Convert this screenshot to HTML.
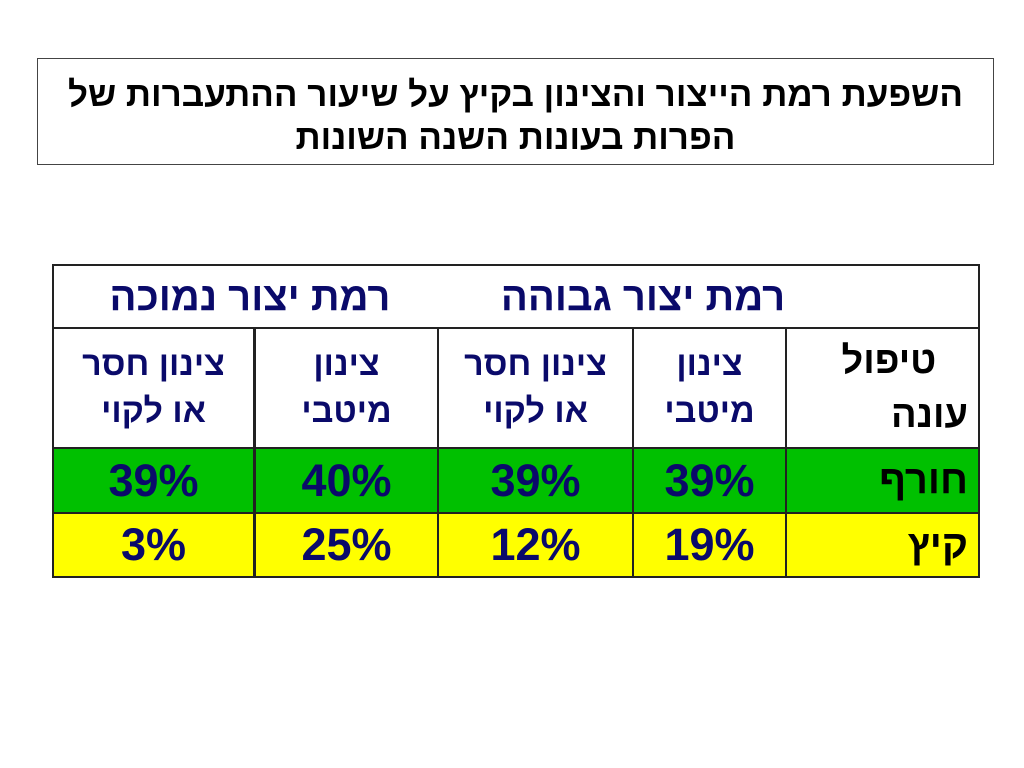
<!DOCTYPE html>
<html><head><meta charset="utf-8"><style>
body{margin:0;width:1024px;height:768px;background:#fff;position:relative;font-family:"Liberation Sans",sans-serif;overflow:hidden}
.a{position:absolute}
#title{left:37px;top:58px;width:957px;height:107px;border:1px solid #444;direction:rtl;text-align:center;font-weight:bold;font-size:35px;line-height:43px;color:#000;padding-top:14px;box-sizing:border-box;white-space:nowrap}
.c{position:absolute;display:flex;align-items:center;justify-content:center;text-align:center;color:#0a0a6a;font-weight:bold;direction:rtl;box-sizing:border-box;white-space:nowrap}
.h{font-size:34px;line-height:47px}
.n{font-size:45px}
.ln{position:absolute;background:#222}
</style></head><body>
<div id="title" class="a">השפעת רמת הייצור והצינון בקיץ על שיעור ההתעברות של<br>הפרות בעונות השנה השונות</div>
<div class="a" style="left:52px;top:264px;width:928px;height:314px;border:2px solid #222;box-sizing:border-box"></div>
<div class="c" style="left:52px;top:266px;width:386px;height:62px;font-size:40px;padding-left:10px">רמת יצור נמוכה</div>
<div class="c" style="left:438px;top:266px;width:410px;height:62px;font-size:40px">רמת יצור גבוהה</div>
<div class="ln" style="left:52px;top:327px;width:928px;height:2px"></div>
<div class="ln" style="left:52px;top:447px;width:928px;height:2px"></div>
<div class="ln" style="left:52px;top:512px;width:928px;height:2px"></div>
<div class="a" style="left:54px;top:449px;width:924px;height:63px;background:#00c000"></div>
<div class="a" style="left:54px;top:514px;width:924px;height:62px;background:#ffff00"></div>
<div class="ln" style="left:253px;top:328px;width:3px;height:250px"></div>
<div class="ln" style="left:437px;top:328px;width:2px;height:250px"></div>
<div class="ln" style="left:632px;top:328px;width:2px;height:250px"></div>
<div class="ln" style="left:785px;top:328px;width:2px;height:250px"></div>
<div class="c h" style="left:54px;top:329px;width:199px;height:118px">צינון חסר<br>או לקוי</div>
<div class="c h" style="left:256px;top:329px;width:181px;height:118px">צינון<br>מיטבי</div>
<div class="c h" style="left:439px;top:329px;width:193px;height:118px">צינון חסר<br>או לקוי</div>
<div class="c h" style="left:634px;top:329px;width:151px;height:118px">צינון<br>מיטבי</div>
<div class="c" style="left:787px;top:329px;width:191px;height:118px;justify-content:flex-start;text-align:right;padding-right:10px;font-size:38px;line-height:54px;color:#000">&nbsp;&nbsp;&nbsp;טיפול<br>עונה</div>
<div class="c n" style="left:54px;top:449px;width:199px;height:63px">39%</div>
<div class="c n" style="left:256px;top:449px;width:181px;height:63px">40%</div>
<div class="c n" style="left:439px;top:449px;width:193px;height:63px">39%</div>
<div class="c n" style="left:634px;top:449px;width:151px;height:63px">39%</div>
<div class="c" style="left:787px;top:449px;width:191px;height:63px;justify-content:flex-start;padding-right:10px;font-size:40px;color:#000">חורף</div>
<div class="c n" style="left:54px;top:514px;width:199px;height:62px">3%</div>
<div class="c n" style="left:256px;top:514px;width:181px;height:62px">25%</div>
<div class="c n" style="left:439px;top:514px;width:193px;height:62px">12%</div>
<div class="c n" style="left:634px;top:514px;width:151px;height:62px">19%</div>
<div class="c" style="left:787px;top:514px;width:191px;height:62px;justify-content:flex-start;padding-right:10px;font-size:40px;color:#000">קיץ</div>
</body></html>
